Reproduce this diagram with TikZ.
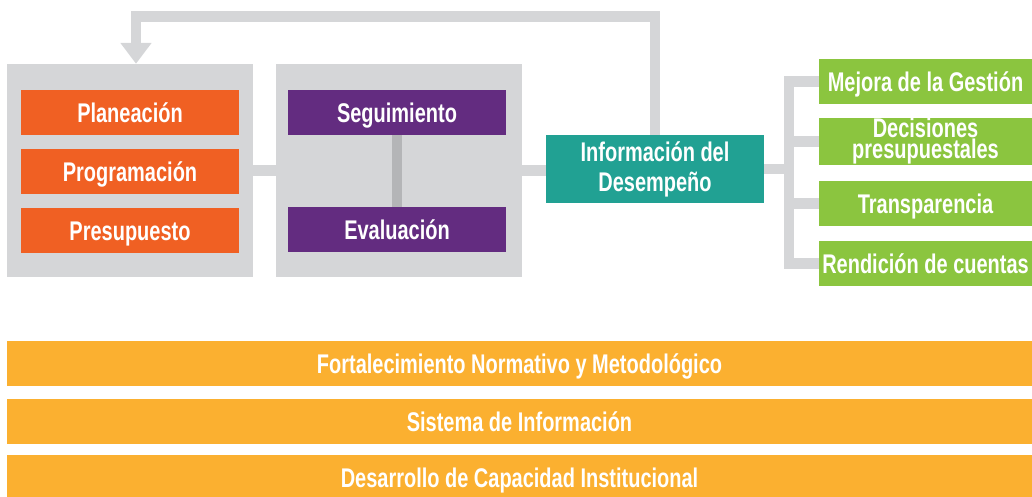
\documentclass[tikz,border=0pt]{standalone}
\usepackage{fontspec}
\setmainfont{Liberation Sans}[FakeStretch=0.74]
\usetikzlibrary{positioning}
\usetikzlibrary{arrows.meta}

\definecolor{panelgray}{RGB}{213,214,216}
\definecolor{bargray}{RGB}{180,181,183}
\definecolor{orangebox}{RGB}{240,96,35}
\definecolor{purplebox}{RGB}{99,44,128}
\definecolor{tealbox}{RGB}{33,161,147}
\definecolor{greenbox}{RGB}{139,197,63}
\definecolor{basebox}{RGB}{251,176,48}

\tikzset{
  panel/.style={fill=panelgray, minimum width=246pt, minimum height=213pt, inner sep=0pt},
  boxtext/.style={text=white, font=\bfseries\fontsize{27}{30}\selectfont, inner sep=0pt},
  capline/.style={text height=20pt, text depth=0pt},
  stage/.style={boxtext, capline, minimum width=218pt, minimum height=45pt},
  result/.style={boxtext, fill=greenbox, minimum width=213pt, minimum height=45pt},
  basebar/.style={boxtext, capline, fill=basebox, minimum width=1025pt, minimum height=45pt},
  link/.style={draw=panelgray, line width=10.5pt},
}

\begin{document}
\begin{tikzpicture}[x=1pt, y=-1pt]
    \useasboundingbox (0,0) rectangle (1032,496);

    % gray panels
    \node[panel] (plan-panel) at (130,170.5) {};
    \node[panel] (eval-panel) at (399,170.5) {};
    \draw[link] (plan-panel.east) -- (eval-panel.west);

    % planning stages
    \node[stage, fill=orangebox] (plan) at (130,112.5) {Planeación};
    \node[stage, fill=orangebox, below=13.5pt of plan] (prog) {Programación};
    \node[stage, fill=orangebox, below=13.5pt of prog] (pres) {Presupuesto};

    % monitoring stages
    \node[stage, fill=purplebox] (seg) at (397,112.5) {Seguimiento};
    \node[stage, fill=purplebox] (eval) at (397,229.5) {Evaluación};
    \draw[draw=bargray, line width=10pt] (seg.south) -- (eval.north);

    % performance information
    \node[boxtext, fill=tealbox, minimum width=218pt, minimum height=68pt, align=center] (info) at (655,169)
        {Información del\\Desempeño};
    \draw[link] (eval-panel.east) -- (eval-panel.east -| info.west);

    % feedback to planning
    \coordinate (bend) at (136,16.5);
    \coordinate (retorno) at ([xshift=6pt]plan-panel.north);
    \draw[link, line join=miter, -{Triangle[width=30pt,length=21pt]}] (info.north) |- (bend) -- (retorno);

    % uses of the information
    \node[result, capline] (mejora) at (925.5,81.5) {Mejora de la Gestión};
    \node[result, align=center, font=\bfseries\fontsize{27}{21}\selectfont] (decision) at (925.5,141.5)
        {Decisiones\\presupuestales};
    \node[result, capline] (transp) at (925.5,203.5) {Transparencia};
    \node[result, capline] (rendicion) at (925.5,263.5) {Rendición de cuentas};

    \coordinate (hub) at (789,169);
    \draw[link] (info.east) -- (info.east -| hub);
    \draw[link, line cap=rect] (hub |- mejora.west) -- (hub |- rendicion.west);
    \foreach \n in {mejora, decision, transp, rendicion} {
        \draw[link] (hub |- \n.west) -- (\n.west);
    }

    % supporting pillars
    \node[basebar] (marco) at (519.5,363.5) {Fortalecimiento Normativo y Metodológico};
    \node[basebar] (sistema) at (519.5,421.5) {Sistema de Información};
    \node[basebar] (capacidad) at (519.5,477.5) {Desarrollo de Capacidad Institucional};
\end{tikzpicture}
\end{document}
